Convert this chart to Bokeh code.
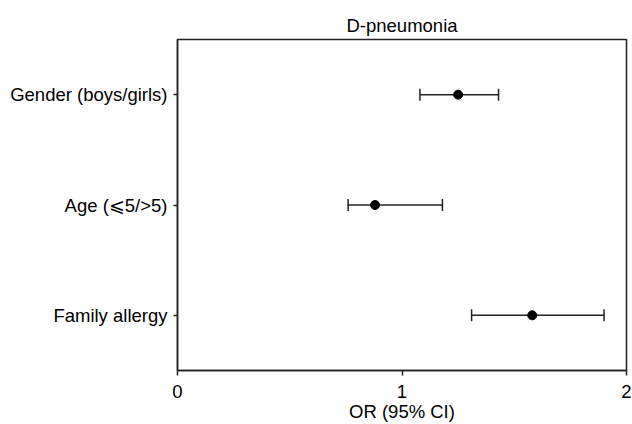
from bokeh.plotting import figure
from bokeh.models import ColumnDataSource, FactorRange, Range1d, Whisker, FixedTicker
from bokeh.embed import file_html
from bokeh.resources import INLINE

# Data
variables = ["Gender (boys/girls)", "Age (⩽5/>5)", "Family allergy"]
odds_ratio = [1.25, 0.88, 1.58]
ci_lower = [1.08, 0.76, 1.31]
ci_upper = [1.43, 1.18, 1.90]
x_ticks = [0, 1, 2]

src = ColumnDataSource(dict(var=variables, orv=odds_ratio, lo=ci_lower, hi=ci_upper))

FONT = "Liberation Sans"
FS = "18.5px"

p = figure(width=632, height=424, output_backend="svg", toolbar_location=None,
           y_range=FactorRange(factors=list(reversed(variables))),
           x_range=Range1d(0, 2),
           title="D-pneumonia",
           min_border_left=177, min_border_right=6, min_border_top=39, min_border_bottom=53)

p.title.align = "center"
p.title.text_font = FONT
p.title.text_font_size = FS
p.title.text_font_style = "normal"
p.title.text_color = "black"
p.title.standoff = 8

p.xgrid.visible = False
p.ygrid.visible = False
p.outline_line_color = "#222222"
p.outline_line_width = 1.5
p.background_fill_color = "white"
p.border_fill_color = "white"

w = Whisker(base="var", lower="lo", upper="hi", dimension="width", source=src,
            line_color="#222222", line_width=1.5)
w.upper_head.size = 12
w.lower_head.size = 12
w.upper_head.line_color = "#222222"
w.lower_head.line_color = "#222222"
w.upper_head.line_width = 1.5
w.lower_head.line_width = 1.5
p.add_layout(w)

p.scatter(x="orv", y="var", source=src, size=9, color="black")

xa = p.xaxis[0]
xa.ticker = FixedTicker(ticks=x_ticks)
xa.axis_label = "OR (95% CI)"
ya = p.yaxis[0]
for ax in (xa, ya):
    ax.axis_line_color = "#222222"
    ax.axis_line_width = 1.5
    ax.major_tick_line_color = "#222222"
    ax.major_tick_line_width = 1.5
    ax.major_tick_in = 0
    ax.minor_tick_line_color = None
    ax.major_label_text_font = FONT
    ax.major_label_text_font_size = FS
    ax.major_label_text_color = "black"
    ax.axis_label_text_font = FONT
    ax.axis_label_text_font_size = FS
    ax.axis_label_text_font_style = "normal"
    ax.axis_label_text_color = "black"

xa.major_tick_out = 5
xa.major_label_standoff = 9
xa.axis_label_standoff = 0
ya.major_tick_out = 4
ya.major_label_standoff = 6

open("out.html", "w").write(file_html(p, INLINE))
